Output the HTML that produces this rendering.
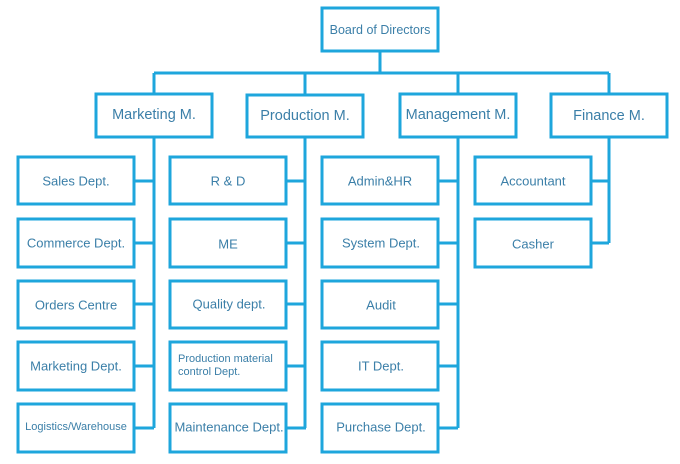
<!DOCTYPE html>
<html><head><meta charset="utf-8"><style>
body{margin:0;background:#fff;}
svg text{font-family:"Liberation Sans",sans-serif;fill:#3b7fa8;text-anchor:middle;dominant-baseline:central;}
</style></head><body>
<svg width="680" height="459" viewBox="0 0 680 459" xmlns="http://www.w3.org/2000/svg">
<g fill="none" stroke="#1ea6dc" stroke-width="3">
<rect x="322" y="8" width="116" height="43"/>
<line x1="380" y1="51" x2="380" y2="73"/>
<line x1="154" y1="73" x2="609" y2="73"/>
<line x1="154" y1="73" x2="154" y2="94"/>
<line x1="305" y1="73" x2="305" y2="95"/>
<line x1="458" y1="73" x2="458" y2="94"/>
<line x1="609" y1="73" x2="609" y2="94"/>
<rect x="96" y="94" width="116" height="43"/>
<rect x="247" y="95" width="116" height="42"/>
<rect x="400" y="94" width="116" height="43"/>
<rect x="551" y="94" width="116" height="43"/>
<line x1="154" y1="137" x2="154" y2="428"/>
<line x1="305" y1="137" x2="305" y2="428"/>
<line x1="458" y1="137" x2="458" y2="428"/>
<line x1="609" y1="137" x2="609" y2="243"/>
<g id="r">
<rect x="18" y="157" width="116" height="47"/><rect x="18" y="219" width="116" height="48"/><rect x="18" y="281" width="116" height="47"/><rect x="18" y="342" width="116" height="48"/><rect x="18" y="404" width="116" height="48"/>
<line x1="134" y1="181" x2="154" y2="181"/><line x1="134" y1="243" x2="154" y2="243"/><line x1="134" y1="304" x2="154" y2="304"/><line x1="134" y1="366" x2="154" y2="366"/><line x1="134" y1="428" x2="154" y2="428"/>
</g>
<use href="#r" x="152"/>
<use href="#r" x="304"/>
<rect x="475" y="157" width="116" height="47"/><rect x="475" y="219" width="116" height="48"/>
<line x1="591" y1="181" x2="609" y2="181"/><line x1="591" y1="243" x2="609" y2="243"/>
</g>
<g font-size="12.5">
<text x="380" y="30">Board of Directors</text>
</g>
<g font-size="14.5">
<text x="154" y="115">Marketing M.</text>
<text x="305" y="116">Production M.</text>
<text x="458" y="115">Management M.</text>
<text x="609" y="116">Finance M.</text>
</g>
<g font-size="13">
<text x="76" y="181">Sales Dept.</text>
<text x="76" y="243">Commerce Dept.</text>
<text x="76" y="305">Orders Centre</text>
<text x="76" y="366">Marketing Dept.</text>
<text x="76" y="427" font-size="11">Logistics/Warehouse</text>
<text x="228" y="181">R &amp; D</text>
<text x="228" y="244">ME</text>
<text x="229" y="304">Quality dept.</text>
<text x="178" y="359" font-size="11" style="text-anchor:start">Production material</text>
<text x="178" y="372" font-size="11" style="text-anchor:start">control Dept.</text>
<text x="229" y="427">Maintenance Dept.</text>
<text x="380" y="181">Admin&amp;HR</text>
<text x="381" y="243">System Dept.</text>
<text x="381" y="305">Audit</text>
<text x="381" y="366">IT Dept.</text>
<text x="381" y="427">Purchase Dept.</text>
<text x="533" y="181">Accountant</text>
<text x="533" y="244">Casher</text>
</g>
</svg>
</body></html>
